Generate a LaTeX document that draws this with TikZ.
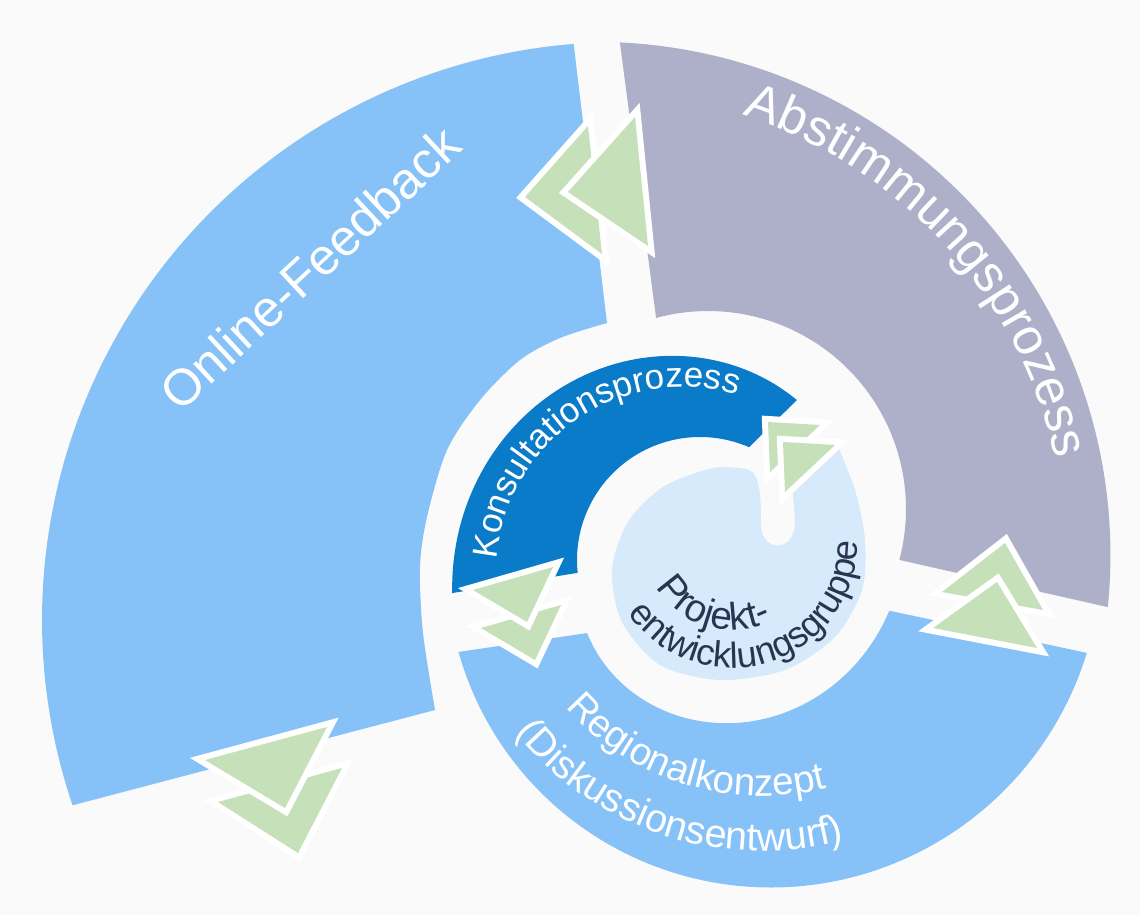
\documentclass[tikz,border=0pt]{standalone}
\usepackage{fontspec}
\setmainfont{Liberation Sans}
\usetikzlibrary{decorations.text}
\definecolor{bandblue}{HTML}{86C1F7}
\definecolor{bandgrey}{HTML}{AEB0C9}
\definecolor{banddark}{HTML}{0A7BC8}
\definecolor{discblue}{HTML}{D6EAFB}
\definecolor{arrowgreen}{HTML}{C6E0BA}
\definecolor{navytext}{HTML}{2A3450}
\definecolor{bgwhite}{HTML}{FAFAFA}
\begin{document}
\begin{tikzpicture}[x=0.02cm, y=-0.02cm,
  chev/.style={fill=arrowgreen, preaction={draw=white, line width=0.24cm, line join=miter}},
  curvetext/.style={decorate, decoration={text along path, text align=center, text={#1}}}]
\fill[bgwhite] (0,0) rectangle (1140,915);
\useasboundingbox (0,0) rectangle (1140,915);

% Online-Feedback band
\fill[bandblue] plot[domain=94.6:198.7, samples=100, variable=\t] ({620+578*cos(\t)}, {620-578*sin(\t)})
  -- plot[smooth] coordinates {(435,710) (423,633) (420,567) (427,517) (447,450) (480,400) (520,360) (560,338) (607,323)} -- cycle;

% Abstimmungsprozess band
\fill[bandgrey] plot[domain=0:93.1, samples=100, variable=\t] ({600+(518-0.086*\t)*cos(87.8-\t)}, {560-(518-0.086*\t)*sin(87.8-\t)})
  -- plot[domain=-14.9:105.2, samples=80, variable=\t] ({708+198*cos(\t)}, {509-198*sin(\t)}) -- cycle;

% Regionalkonzept band
\fill[bandblue] plot[domain=196.7:343.9, samples=100, variable=\t] ({765+(320+0.1019*(\t-196.7))*cos(\t)}, {560-(320+0.1019*(\t-196.7))*sin(\t)})
  -- plot[domain=0:132.1, samples=80, variable=\t] ({700+(196-0.4656*\t)*cos(345-\t)}, {560-(196-0.4656*\t)*sin(345-\t)}) -- cycle;

% Konsultationsprozess band
\fill[banddark] plot[domain=58.8:187.6, samples=80, variable=\t] ({700+(187+0.4891*(\t-58.8))*cos(\t)}, {560-(187+0.4891*(\t-58.8))*sin(\t)})
  -- plot[domain=0:119.5, samples=80, variable=\t] ({700+123*cos(186-\t)}, {560-123*sin(186-\t)}) -- cycle;

% central disc with the curled notch
\fill[discblue] plot[smooth] coordinates {(746,469) (713,468) (663,487) (628,522) (612,570) (622,622) (660,665) (720,680) (785,670) (835,637) (862,590) (865,540) (855,490) (838,447)}
  -- (793,493) -- (795,522) .. controls (795,553) and (761,553) .. (761,524)
  .. controls (761,494) and (760,471) .. (746,469) -- cycle;

% arrows (the one ahead first, then the one on top)
\path[chev] (525,197) -- (588,126) -- (602,254) -- cycle;
\path[chev] (568,192) -- (635,117) -- (648,246) -- cycle;
\path[chev] (218,802) -- (342,768) -- (298,853) -- cycle;
\path[chev] (205,760) -- (327,727) -- (285,808) -- cycle;
\path[chev] (481,628) -- (561,605) -- (535,660) -- cycle;
\path[chev] (473,590) -- (553,567) -- (527,622) -- cycle;
\path[chev] (768,422) -- (820,425) -- (770,472) -- cycle;
\path[chev] (783,442) -- (835,445) -- (785,492) -- cycle;
\path[chev] (1005,543) -- (942,592) -- (1043,610) -- cycle;
\path[chev] (997,582) -- (933,628) -- (1037,648) -- cycle;

% texts
\node[text=white, rotate=43, font=\fontsize{29}{34}\selectfont] (tof) at (310,268) {Online-Feedback};

\path[curvetext={|\color{white}\fontsize{29}{34}\selectfont|Abstimmungsprozess}]
  plot[domain=0:80, samples=100, variable=\t] ({600+467*cos(82.35-\t)}, {560-467*sin(82.35-\t)});

\path[curvetext={|\color{white}\fontsize{20}{24}\selectfont|Konsultationsprozess}]
  plot[domain=0:160, samples=100, variable=\t] ({683+187*cos(204.3-\t)}, {574-187*sin(204.3-\t)});

\path[curvetext={|\color{navytext}\fontsize{22}{26}\selectfont|Projekt-}]
  plot[domain=0:140, samples=100, variable=\t] ({732+88*cos(183.8+\t)}, {542-88*sin(183.8+\t)});

\path[curvetext={|\color{navytext}\fontsize{20.7}{24}\selectfont|entwicklungsgruppe}]
  plot[domain=0:170, samples=100, variable=\t] ({732+126*cos(202.4+\t)}, {542-126*sin(202.4+\t)});

\path[curvetext={|\color{white}\fontsize{22}{27}\selectfont|Regionalkonzept}]
  plot[domain=0:120, samples=100, variable=\t] ({762+261*cos(192.8+\t)}, {535-261*sin(192.8+\t)});

\path[curvetext={|\color{white}\fontsize{22.5}{27}\selectfont|(Diskussionsentwurf)}]
  plot[domain=0:130, samples=100, variable=\t] ({762+316*cos(186.9+\t)}, {535-316*sin(186.9+\t)});
\end{tikzpicture}
\end{document}
